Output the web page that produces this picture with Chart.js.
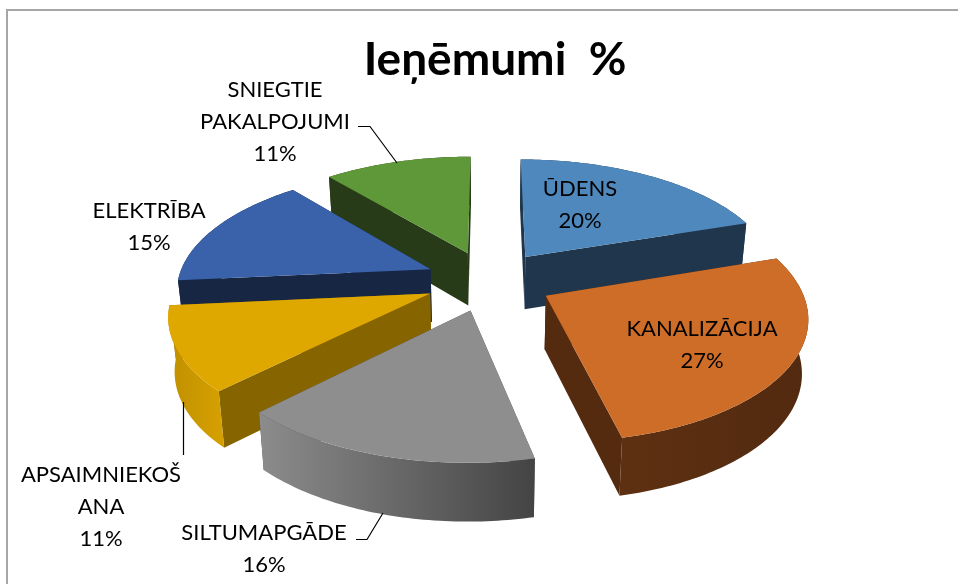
<!DOCTYPE html>
<html>
<head>
<meta charset="utf-8">
<title>Ieņēmumi %</title>
<script src="https://cdn.jsdelivr.net/npm/chart.js@4"></script>
<style>
  html, body { margin: 0; padding: 0; background: #fff; overflow: hidden; }
  #wrap { position: relative; width: 958px; height: 584px; }
</style>
</head>
<body>
<div id="wrap"><canvas id="pie"></canvas></div>
<script>
var categories = ["ŪDENS", "KANALIZĀCIJA", "SILTUMAPGĀDE", "APSAIMNIEKOŠANA", "ELEKTRĪBA", "SNIEGTIE PAKALPOJUMI"];
// the labels only show whole percents, decimals estimated from the slice edges
var values = [19.9, 26.6, 16, 11, 15.4, 11.1];
var chartTitle = "Ieņēmumi  %";

// wrapped the way the picture wraps them
var labelLines = [["ŪDENS"], ["KANALIZĀCIJA"], ["SILTUMAPGĀDE"], ["APSAIMNIEKOŠ", "ANA"], ["ELEKTRĪBA"], ["SNIEGTIE", "PAKALPOJUMI"]];
var labelPos = [[580, 196], [702, 336], [264, 540], [101, 482], [149, 218], [275, 97]];
var leaders = [null, null, [[356, 539.5], [367, 539.5], [383, 513]], [[183.5, 402], [183.5, 455]], null, [[358, 126.5], [370, 126.5], [397, 163]]];

var topColors = ["#4f88bc", "#ce6d27", "#8e8e8e", "#dfa800", "#3a62aa", "#5f9838"];
var sideColors = ["#20364d", "#552b10", "#4a4a4a", "#866500", "#172743", "#273b18"];
var wallFrom = ["#20364d", "#5e3012", "#8c8c8c", "#bf9000", "#172743", "#273b18"];
var wallTo = ["#20364d", "#522a0f", "#444444", "#d49f00", "#172743", "#273b18"];

// back to front
var paintOrder = [5, 0, 4, 3, 2, 1];

var tilt = 0.47, persp = 0.0006, depth = 53, depthShrink = 0.98, shiftX = -6;

function project(cx, cy, gx, gy) {
  var s = 1 / (1 - persp * gy);
  return { x: cx + gx * s, y: cy + gy * tilt * s, s: s };
}

function lower(cx, p) {
  return { x: cx + (p.x - cx) * depthShrink, y: p.y + depth * Math.sqrt(p.s) };
}

function trace(ctx, pts) {
  ctx.beginPath();
  pts.forEach(function (p, i) {
    if (i == 0) ctx.moveTo(p.x, p.y);
    else ctx.lineTo(p.x, p.y);
  });
  ctx.closePath();
}

function drawSlice(ctx, arc, i) {
  var cx = arc.x + shiftX, cy = arc.y, r = arc.outerRadius;
  var mid = (arc.startAngle + arc.endAngle) / 2;
  var ox = Math.cos(mid) * arc.options.offset, oy = Math.sin(mid) * arc.options.offset;
  var tip = project(cx, cy, ox, oy);
  var rim = [];
  var steps = Math.ceil((arc.endAngle - arc.startAngle) * 180 / Math.PI);
  for (var k = 0; k <= steps; k++) {
    var a = arc.startAngle + (arc.endAngle - arc.startAngle) * k / steps;
    rim.push(project(cx, cy, ox + Math.cos(a) * r, oy + Math.sin(a) * r));
  }
  var rimLow = rim.map(function (p) { return lower(cx, p); });
  var tipLow = lower(cx, tip);

  // radial faces
  ctx.fillStyle = sideColors[i];
  trace(ctx, [tip, rim[0], rimLow[0], tipLow]);
  ctx.fill();
  trace(ctx, [tip, rim[steps], rimLow[steps], tipLow]);
  ctx.fill();

  // outer wall
  var xs = rim.map(function (p) { return p.x; });
  var grad = ctx.createLinearGradient(Math.min.apply(null, xs), 0, Math.max.apply(null, xs), 0);
  grad.addColorStop(0, wallFrom[i]);
  grad.addColorStop(1, wallTo[i]);
  ctx.fillStyle = grad;
  trace(ctx, rim.concat(rimLow.slice().reverse()));
  ctx.fill();

  // top
  ctx.fillStyle = arc.options.backgroundColor;
  trace(ctx, [tip].concat(rim));
  ctx.fill();
}

var pie3d = {
  id: "pie3d",
  beforeDraw: function (chart) {
    var ctx = chart.ctx;
    ctx.save();
    ctx.strokeStyle = "#a6a6a6";
    ctx.lineWidth = 2;
    ctx.beginPath();
    ctx.moveTo(7, 584);
    ctx.lineTo(7, 10);
    ctx.lineTo(958, 10);
    ctx.stroke();
    ctx.restore();
  },
  beforeDatasetsDraw: function (chart) {
    var ctx = chart.ctx, arcs = chart.getDatasetMeta(0).data;
    ctx.save();
    paintOrder.forEach(function (i) { drawSlice(ctx, arcs[i], i); });
    ctx.restore();
    return false;
  },
  afterDraw: function (chart) {
    var ctx = chart.ctx;
    var total = values.reduce(function (a, b) { return a + b; }, 0);
    ctx.save();
    ctx.strokeStyle = "#000";
    ctx.lineWidth = 1.2;
    leaders.forEach(function (line) {
      if (!line) return;
      ctx.beginPath();
      line.forEach(function (p, k) {
        if (k == 0) ctx.moveTo(p[0], p[1]);
        else ctx.lineTo(p[0], p[1]);
      });
      ctx.stroke();
    });
    ctx.fillStyle = "#000";
    ctx.font = "22px Lato";
    ctx.textAlign = "center";
    ctx.textBaseline = "alphabetic";
    labelLines.forEach(function (lines, i) {
      var text = lines.concat(Math.round(values[i] / total * 100) + "%");
      text.forEach(function (t, k) {
        ctx.fillText(t, labelPos[i][0], labelPos[i][1] + k * 32);
      });
    });
    ctx.restore();
  }
};

var myPie = new Chart(document.getElementById("pie").getContext("2d"), {
  type: "pie",
  data: {
    labels: categories,
    datasets: [{
      data: values,
      backgroundColor: topColors,
      borderWidth: 0,
      offset: 64
    }]
  },
  options: {
    responsive: true,
    maintainAspectRatio: false,
    animation: false,
    radius: 253,
    layout: { padding: { left: 32, right: 0, top: 0, bottom: 122 } },
    plugins: {
      legend: { display: false },
      tooltip: { enabled: false },
      title: {
        display: true,
        text: chartTitle,
        color: "#000",
        font: { family: "Lato", size: 46, weight: "bold" },
        padding: { top: 33, bottom: 11 }
      }
    }
  },
  plugins: [pie3d]
});
</script>
</body>
</html>
